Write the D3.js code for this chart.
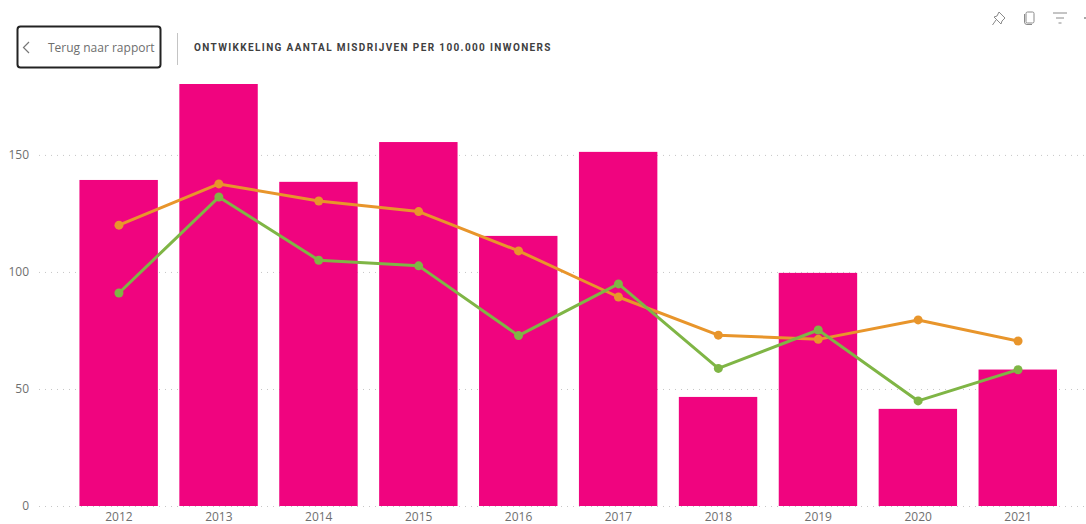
<!DOCTYPE html>
<html><head><meta charset="utf-8">
<script src="https://cdn.jsdelivr.net/npm/d3@7"></script>
<style>html,body{margin:0;padding:0;background:#fff;overflow:hidden}svg{display:block}text{font-family:"Open Sans",sans-serif}</style>
</head><body><svg id="c" width="1086" height="524"></svg>
<script>
const years=["2012","2013","2014","2015","2016","2017","2018","2019","2020","2021"];
const bars=[139.3,180.3,138.5,155.5,115.4,151.3,46.6,99.6,41.5,58.3];
const orange=[120,137.6,130.3,125.8,109,89.3,73,71.2,79.5,70.5];
const green=[91,132,105,102.6,72.8,94.9,58.8,75.2,44.9,58.2];
const yTicks=[0,50,100,150];
const titleText="ONTWIKKELING AANTAL MISDRIJVEN PER 100.000 INWONERS";
const backText="Terug naar rapport";

const svg=d3.select("#c");
const x=d3.scaleBand().domain(years).range([69,1068]).paddingInner(0.215).paddingOuter(0.1075);
const y=d3.scaleLinear().domain([0,180.3]).range([506,84]);
const cx=d=>x(d)+x.bandwidth()/2;

svg.append("g").selectAll("line").data(yTicks).join("line")
 .attr("x1",39).attr("x2",1086).attr("y1",d=>y(d)+0.5).attr("y2",d=>y(d)+0.5)
 .attr("stroke","#c6c6c6").attr("stroke-width",1).attr("stroke-dasharray","1 5");

const ay=svg.append("g").attr("transform","translate(29,0)").call(d3.axisLeft(y).tickValues(yTicks).tickSize(0).tickPadding(0));
ay.select(".domain").remove();
ay.selectAll("text").attr("font-size",12).attr("fill","#6f6f6f").style("font-family","'Open Sans',sans-serif");
const ax=svg.append("g").attr("transform","translate(0,506)").call(d3.axisBottom(x).tickSize(0).tickPadding(6));
ax.select(".domain").remove();
ax.selectAll("text").attr("font-size",12).attr("fill","#6f6f6f").style("font-family","'Open Sans',sans-serif");

svg.append("g").selectAll("rect").data(years).join("rect")
 .attr("x",d=>x(d)-0.3).attr("width",x.bandwidth())
 .attr("y",(d,i)=>y(bars[i])).attr("height",(d,i)=>y(0)-y(bars[i]))
 .attr("fill","#f0047f");

function series(vals,color){
 const pts=years.map((d,i)=>[cx(d),y(vals[i])]);
 svg.append("path").attr("d",d3.line()(pts)).attr("fill","none").attr("stroke",color).attr("stroke-width",3).attr("stroke-linejoin","round");
 svg.append("g").selectAll("circle").data(pts).join("circle").attr("cx",d=>d[0]).attr("cy",d=>d[1]).attr("r",4.5).attr("fill",color);
}
series(orange,"#e8952b");
series(green,"#7fb545");

svg.append("rect").attr("x",17.5).attr("y",26.5).attr("width",143).attr("height",41).attr("rx",3)
 .attr("fill","#fff").attr("stroke","#222").attr("stroke-width",2);
svg.append("path").attr("d","M29 42 L23.5 47.5 L29 53").attr("fill","none").attr("stroke","#777").attr("stroke-width",1.2);
svg.append("text").attr("x",48).attr("y",51.5).attr("font-size",12).attr("fill","#6e6e6e").text(backText);
svg.append("line").attr("x1",177.5).attr("x2",177.5).attr("y1",33).attr("y2",65).attr("stroke","#c4c4c4");
svg.append("text").attr("x",194).attr("y",51).attr("font-size",10).attr("font-weight",700).attr("letter-spacing",1.37).attr("fill","#40403f")
 .style("font-family","Roboto,sans-serif").text(titleText);

const ic=svg.append("g").attr("fill","none").attr("stroke","#8a8a8a").attr("stroke-width",1);
ic.append("path").attr("d","M999 12 L1005 18 L1002 21 L1001 24 L994 17 L997 16 Z M996 20 L992.5 25");
ic.append("rect").attr("x",1026).attr("y",12).attr("width",8).attr("height",11).attr("rx",1.5);
ic.append("path").attr("d","M1024.5 14 V22 Q1024.5 24.5 1027 24.5 H1032");
ic.append("path").attr("d","M1053 13 H1067 M1056 18 H1064 M1058.5 23 H1061.5");
svg.append("circle").attr("cx",1085).attr("cy",18).attr("r",1).attr("fill","#8a8a8a");
</script></body></html>
